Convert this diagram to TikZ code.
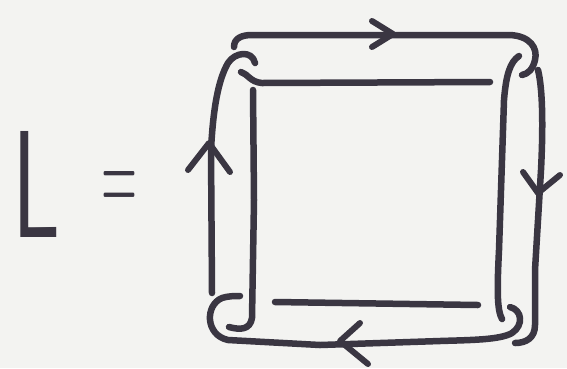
\documentclass[tikz,border=0pt]{standalone}
\usepackage{graphicx}
\definecolor{ink}{RGB}{58,54,66}
\definecolor{paper}{RGB}{243,243,241}
\tikzset{
  strand/.style={draw=ink,line width=6.5pt,line cap=round,line join=round},
  chev/.style={strand,line width=6pt},
  glyph/.style={inner sep=0pt,text=ink,font=\sffamily}
}
\begin{document}
\begin{tikzpicture}[x=1pt,y=-1pt]
\fill[paper] (0,0) rectangle (567,368);
\useasboundingbox (0,0) rectangle (567,368);

\node[glyph] (ell) at (37,184) {\resizebox{48pt}{106pt}{L}};
\node[glyph] (eq) at (120,191) {\resizebox{36pt}{40pt}{=}};

% outer strand, in pieces
\draw[strand] (234,47) .. controls (234,38) and (242,35) .. (252,35) -- (510,35)
  .. controls (530,36) and (538,48) .. (535,60) .. controls (533,69) and (528,74) .. (522,75);
\draw[strand] (538,70) .. controls (543,90) and (543,130) .. (541,170) -- (535,270) -- (535,325)
  .. controls (535,338) and (526,343) .. (515,343);
\draw[strand] (510,307) .. controls (522,310) and (524,325) .. (512,333)
  .. controls (500,340) and (470,340) .. (440,341) -- (320,345) -- (228,340)
  .. controls (205,335) and (205,305) .. (222,298) .. controls (228,296) and (235,296) .. (240,296);
\draw[strand] (212,293) -- (211,150) .. controls (213,110) and (218,80) .. (228,63)
  .. controls (235,52) and (252,50) .. (255,63);

% inner square
\draw[strand] (241,72) .. controls (248,74) and (250,82) .. (262,83) -- (490,82);
\draw[strand] (519,56) .. controls (510,62) and (506,75) .. (504,100) -- (499,250)
  .. controls (497,290) and (497,310) .. (502,319);
\draw[strand] (275,302) -- (478,305);
\draw[strand] (253,90) -- (254,200) -- (252,318) .. controls (250,330) and (240,330) .. (229,327);

% arrows
\draw[chev] (372,21) -- (393,34) -- (372,47);
\draw[chev] (523,172) -- (538,193) -- (560,175);
\draw[chev] (360,323) -- (340,341) -- (368,364);
\draw[chev] (188,170) -- (209,143) -- (230,172);
\end{tikzpicture}
\end{document}
